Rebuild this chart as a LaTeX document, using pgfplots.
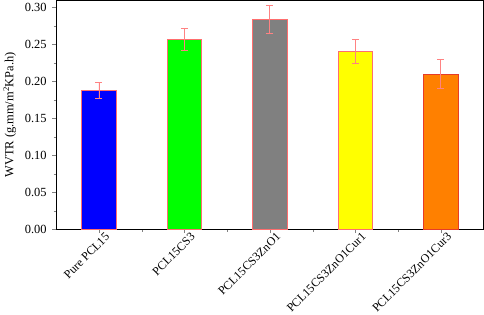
\documentclass[border=0pt]{standalone}
\usepackage{pgfplots}
\pgfplotsset{compat=1.18}
\usepackage{fontspec}
\setmainfont{Liberation Serif}
\definecolor{edgered}{RGB}{255,110,110}
\definecolor{errred}{RGB}{255,130,130}
\begin{document}
\begin{tikzpicture}
\begin{axis}[
  scale only axis,
  width=428bp, height=229bp,
  xmin=-0.5, xmax=4.5,
  ymin=0, ymax=0.3095,
  xtick={0,1,2,3,4},
  xticklabels={Pure PCL15,PCL15CS3,PCL15CS3ZnO1,PCL15CS3ZnO1Cur1,PCL15CS3ZnO1Cur3},
  minor xtick={0.5,1.5,2.5,3.5},
  ytick={0,0.05,0.10,0.15,0.20,0.25,0.30},
  minor ytick={0.025,0.075,0.125,0.175,0.225,0.275},
  /pgf/number format/fixed,
  /pgf/number format/fixed zerofill,
  /pgf/number format/precision=2,
  /pgf/number format/assume math mode=true,
  tick align=outside,
  xtick pos=bottom, ytick pos=left,
  major tick length=4bp, minor tick length=2.5bp,
  x tick label style={rotate=45, anchor=north east, font=\fontsize{12}{12}\selectfont, inner sep=1pt, yshift=-2pt, xshift=6pt},
  y tick label style={font=\fontsize{12.5}{12}\selectfont, xshift=-2pt},
  ylabel={WVTR (g.mm/m\textsuperscript{2}KPa.h)},
  ylabel style={font=\fontsize{12.5}{12}\selectfont, yshift=2pt},
  axis line style={black, line width=0.8pt},
  ybar, bar width=0.4, bar shift=0pt,
  error bars/y dir=both, error bars/y explicit,
  error bars/error bar style={errred, line width=0.8pt},
  error bars/error mark options={rotate=90, errred, mark size=3.5bp, line width=0.8pt},
]
\addplot[fill={rgb,255:red,0;green,0;blue,255}, draw=edgered, line width=0.8pt] coordinates {(0,0.188) +- (0,0.011)};
\addplot[fill={rgb,255:red,0;green,255;blue,0}, draw=edgered, line width=0.8pt] coordinates {(1,0.257) +- (0,0.015)};
\addplot[fill={rgb,255:red,128;green,128;blue,128}, draw=edgered, line width=0.8pt] coordinates {(2,0.284) +- (0,0.019)};
\addplot[fill={rgb,255:red,255;green,255;blue,0}, draw=edgered, line width=0.8pt] coordinates {(3,0.241) +- (0,0.016)};
\addplot[fill={rgb,255:red,255;green,128;blue,0}, draw={rgb,255:red,230;green,60;blue,40}, line width=0.8pt] coordinates {(4,0.210) +- (0,0.020)};
\end{axis}
\end{tikzpicture}
\end{document}
